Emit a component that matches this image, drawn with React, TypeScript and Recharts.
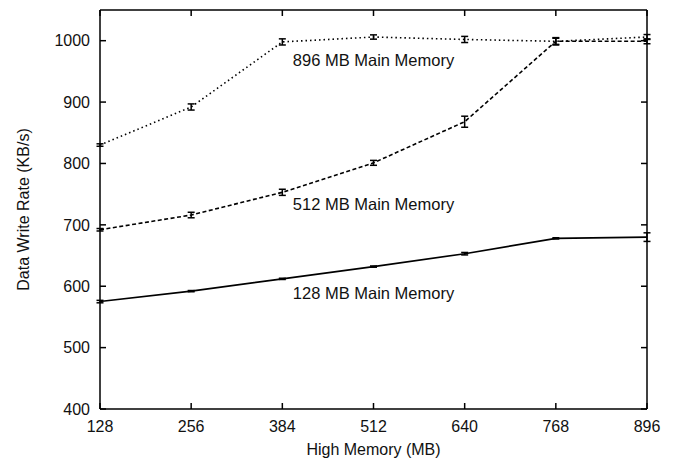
// Data write rate vs high memory, one line per main-memory size, gnuplot-style frame.
import {
  LineChart,
  Line,
  XAxis,
  YAxis,
  ErrorBar,
  ReferenceDot,
} from "recharts";

const highMemory = [128, 256, 384, 512, 640, 768, 896];

const rate896 = [830, 892, 998, 1006, 1002, 999, 1006];
const err896 = [2, 5, 5, 3.5, 5, 5, 4];

const rate512 = [692, 716, 753, 801, 868, 999, 999];
const err512 = [2, 4.5, 5, 4, 9, 6, 4];

const rate128 = [575, 592, 612, 632, 653, 678, 680];
const err128 = [2, 1, 1, 1, 2, 1, 7];

const xTicks = [128, 256, 384, 512, 640, 768, 896];
const yTicks = [400, 500, 600, 700, 800, 900, 1000];

const annotations = [
  { text: "896 MB Main Memory", x: 512, y: 969 },
  { text: "512 MB Main Memory", x: 512, y: 733 },
  { text: "128 MB Main Memory", x: 512, y: 589 },
];

const data = highMemory.map((x, i) => ({
  x,
  s896: rate896[i],
  e896: err896[i],
  s512: rate512[i],
  e512: err512[i],
  s128: rate128[i],
  e128: err128[i],
}));

const FONT = '"Liberation Sans", Arial, Helvetica, sans-serif';
const INK = "#111";
const axisLine = { stroke: "#000", strokeWidth: 1.5 };
const tickLine = { stroke: "#000", strokeWidth: 1.5 };
const tickFont = { fill: INK, fontSize: 16, fontFamily: FONT };

export default function App() {
  return (
    <div style={{ position: "absolute", left: 0, top: 0, width: 677, height: 462, background: "#fff" }}>
      <LineChart
        width={677}
        height={462}
        data={data}
        margin={{ top: 9, right: 29, bottom: 0, left: 0 }}
      >
        <XAxis
          dataKey="x"
          type="number"
          domain={[128, 896]}
          ticks={xTicks}
          interval={0}
          height={53}
          tickSize={-6}
          tickMargin={18}
          axisLine={axisLine}
          tickLine={tickLine}
          tick={tickFont}
          label={{
            value: "High Memory (MB)",
            position: "insideBottom",
            offset: 7,
            style: { fill: INK, fontSize: 16, fontFamily: FONT },
          }}
        />
        <XAxis
          xAxisId="top"
          orientation="top"
          dataKey="x"
          type="number"
          domain={[128, 896]}
          ticks={xTicks}
          interval={0}
          height={1}
          tickSize={-6}
          axisLine={axisLine}
          tickLine={tickLine}
          tick={{ fill: "none", fontSize: 1 }}
        />
        <YAxis
          type="number"
          domain={[400, 1050]}
          ticks={yTicks}
          interval={0}
          width={100}
          tickSize={-6}
          tickMargin={16}
          axisLine={axisLine}
          tickLine={tickLine}
          tick={tickFont}
          label={{
            value: "Data Write Rate (KB/s)",
            angle: -90,
            position: "insideLeft",
            offset: 23,
            style: { fill: INK, fontSize: 16, fontFamily: FONT, textAnchor: "middle" },
          }}
        />
        <YAxis
          yAxisId="right"
          orientation="right"
          type="number"
          domain={[400, 1050]}
          ticks={yTicks}
          interval={0}
          width={1}
          tickSize={-6}
          axisLine={axisLine}
          tickLine={tickLine}
          tick={{ fill: "none", fontSize: 1 }}
        />
        {/* invisible series so the mirrored frame axes get a scale and draw their ticks */}
        <Line
          xAxisId="top"
          yAxisId="right"
          dataKey="s128"
          stroke="none"
          dot={false}
          activeDot={false}
          legendType="none"
          isAnimationActive={false}
        />
        <Line
          dataKey="s896"
          stroke="#000"
          strokeWidth={1.6}
          strokeDasharray="1.5 3"
          dot={false}
          isAnimationActive={false}
        >
          <ErrorBar dataKey="e896" width={3.5} stroke="#000" strokeWidth={1.5} direction="y" isAnimationActive={false} />
        </Line>
        <Line
          dataKey="s512"
          stroke="#000"
          strokeWidth={1.6}
          strokeDasharray="4 2.5"
          dot={false}
          isAnimationActive={false}
        >
          <ErrorBar dataKey="e512" width={3.5} stroke="#000" strokeWidth={1.5} direction="y" isAnimationActive={false} />
        </Line>
        <Line
          dataKey="s128"
          stroke="#000"
          strokeWidth={1.6}
          dot={false}
          isAnimationActive={false}
        >
          <ErrorBar dataKey="e128" width={3.5} stroke="#000" strokeWidth={1.5} direction="y" isAnimationActive={false} />
        </Line>
        {annotations.map((a) => (
          <ReferenceDot
            key={a.text}
            x={a.x}
            y={a.y}
            r={0}
            fill="none"
            stroke="none"
            label={{
              value: a.text,
              position: "center",
              style: { fill: INK, fontSize: 16.5, fontFamily: FONT },
            }}
          />
        ))}
      </LineChart>
    </div>
  );
}
